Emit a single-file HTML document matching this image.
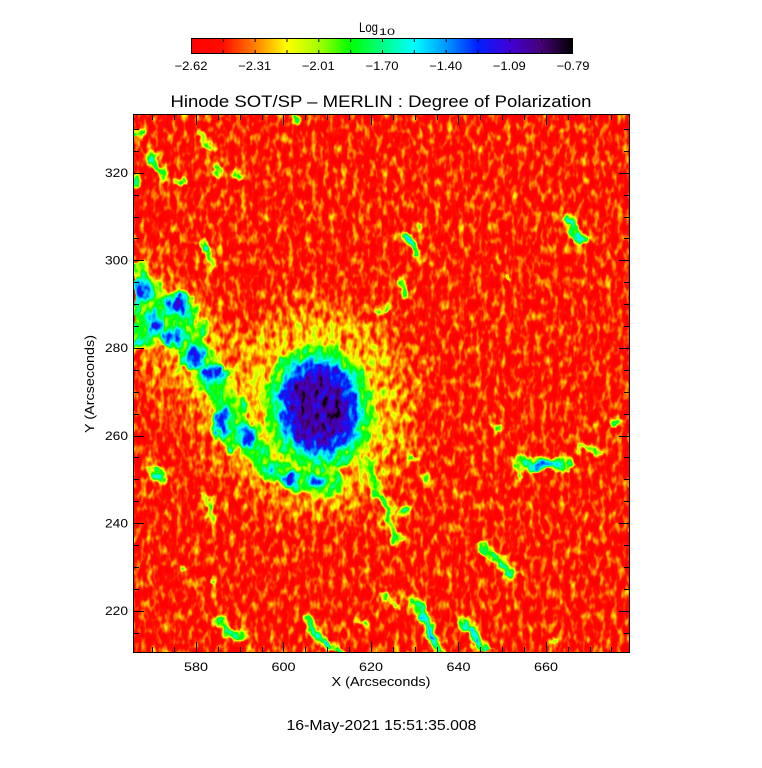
<!DOCTYPE html>
<html><head><meta charset="utf-8"><style>
html,body{margin:0;padding:0;background:#fff;width:762px;height:768px;overflow:hidden}
svg{display:block}
text{font-family:"Liberation Sans",sans-serif;fill:#000}
</style></head><body>
<svg width="762" height="768" viewBox="0 0 762 768" xmlns="http://www.w3.org/2000/svg">
<defs>
<linearGradient id="cb" x1="0" x2="1" y1="0" y2="0">
<stop offset="0" stop-color="#ff0000"/>
<stop offset="0.083" stop-color="#ff0d00"/>
<stop offset="0.167" stop-color="#ff8000"/>
<stop offset="0.25" stop-color="#ffff00"/>
<stop offset="0.333" stop-color="#a6ff00"/>
<stop offset="0.417" stop-color="#00ff00"/>
<stop offset="0.5" stop-color="#00ff80"/>
<stop offset="0.583" stop-color="#00ffff"/>
<stop offset="0.667" stop-color="#0099ff"/>
<stop offset="0.75" stop-color="#001fff"/>
<stop offset="0.833" stop-color="#4000d9"/>
<stop offset="0.917" stop-color="#470078"/>
<stop offset="1" stop-color="#000000"/>
</linearGradient>
<filter id="bb" filterUnits="userSpaceOnUse" x="0" y="0" width="762" height="768" color-interpolation-filters="sRGB">
<feGaussianBlur stdDeviation="12"/>
</filter>
<filter id="f" filterUnits="userSpaceOnUse" x="134" y="115" width="495" height="537" color-interpolation-filters="sRGB">
<feGaussianBlur in="SourceGraphic" stdDeviation="2" result="b"/>
<feTurbulence type="fractalNoise" baseFrequency="0.07" numOctaves="3" seed="11" result="dt"/>
<feDisplacementMap in="b" in2="dt" scale="13" xChannelSelector="R" yChannelSelector="G" result="d"/>
<feTurbulence type="fractalNoise" baseFrequency="0.17 0.09" numOctaves="2" seed="4" result="t"/>
<feColorMatrix in="t" type="matrix" values="0.45 0 0 0 -0.06  0.45 0 0 0 -0.06  0.45 0 0 0 -0.06  0 0 0 0 1" result="n"/>
<feComposite in="n" in2="d" operator="arithmetic" k1="0" k2="1" k3="1" k4="-0.08" result="s"/>
<feComponentTransfer in="s">
<feFuncR type="table" tableValues="1 1 1 1 0.65 0 0 0 0 0 0.25 0.28 0"/>
<feFuncG type="table" tableValues="0 0.05 0.5 1 1 1 1 1 0.6 0.12 0 0 0"/>
<feFuncB type="table" tableValues="0 0 0 0 0 0 0.5 1 1 1 0.85 0.47 0"/>
<feFuncA type="linear" slope="0" intercept="1"/>
</feComponentTransfer>
</filter>
</defs>

<!-- image -->
<g filter="url(#f)">
<rect x="100" y="100" width="560" height="580" fill="#000"/>
<g filter="url(#bb)">
<ellipse cx="318" cy="408" rx="105" ry="115" fill="#0f0f0f"/>
<polygon points="133,255 180,275 230,320 270,360 300,430 340,480 330,515 260,505 210,465 170,415 133,380" fill="#0f0f0f"/>
<ellipse cx="318" cy="408" rx="80" ry="90" fill="#242424"/>
<polyline points="133,305 170,320 200,355 225,400 250,440 290,475 330,488" fill="none" stroke="#242424" stroke-width="45"/>
</g>

<!-- filament green -->
<g fill="none" stroke="#545454" stroke-linecap="round" stroke-linejoin="round">
<polyline points="133,310 165,318 190,340 210,370 225,410 245,440 270,470 300,482 335,485" stroke-width="22"/>
</g>
<g fill="#545454">
<ellipse cx="145" cy="312" rx="18" ry="38"/>
<ellipse cx="185" cy="318" rx="14" ry="20"/>
<ellipse cx="200" cy="380" rx="10" ry="8"/>
<ellipse cx="238" cy="405" rx="9" ry="10"/>
<ellipse cx="262" cy="448" rx="9" ry="8"/>
<ellipse cx="230" cy="445" rx="8" ry="9"/>
<ellipse cx="205" cy="330" rx="7" ry="6"/>
<ellipse cx="140" cy="270" rx="8" ry="7"/>
</g>

<!-- filament cyan / blue blobs -->
<g fill="#7c7c7c">
<ellipse cx="143" cy="290" rx="11" ry="13"/>
<ellipse cx="155" cy="325" rx="10" ry="12"/>
<ellipse cx="178" cy="305" rx="15" ry="12"/>
<ellipse cx="172" cy="338" rx="11" ry="9"/>
<ellipse cx="194" cy="357" rx="14" ry="10"/>
<ellipse cx="214" cy="374" rx="15" ry="9"/>
<ellipse cx="222" cy="422" rx="9" ry="17"/>
<ellipse cx="248" cy="437" rx="10" ry="14"/>
<ellipse cx="290" cy="478" rx="10" ry="8"/>
<ellipse cx="316" cy="482" rx="12" ry="7"/>
<ellipse cx="272" cy="468" rx="7" ry="6"/>
<ellipse cx="139" cy="344" rx="6" ry="6"/>
</g>
<g fill="#aaaaaa">
<ellipse cx="143" cy="290" rx="6" ry="8"/>
<ellipse cx="155" cy="325" rx="5" ry="7"/>
<ellipse cx="178" cy="305" rx="10" ry="8"/>
<ellipse cx="172" cy="338" rx="6" ry="5"/>
<ellipse cx="194" cy="357" rx="9" ry="6"/>
<ellipse cx="214" cy="374" rx="10" ry="5"/>
<ellipse cx="222" cy="422" rx="5" ry="12"/>
<ellipse cx="248" cy="437" rx="6" ry="9"/>
<ellipse cx="290" cy="478" rx="6" ry="5"/>
<ellipse cx="316" cy="482" rx="8" ry="4"/>
</g>

<!-- sunspot -->
<g transform="translate(319,408) rotate(-10)">
<ellipse rx="55" ry="64" fill="#545454"/>
<ellipse rx="44" ry="53" fill="#7c7c7c"/>
<ellipse rx="38" ry="46" fill="#aaaaaa"/>
<ellipse rx="29" ry="37" fill="#c7c7c7"/>
<ellipse rx="18" ry="24" fill="#cccccc"/>
</g>

<!-- scattered small features: green -->
<g fill="none" stroke="#595959" stroke-linecap="round" stroke-linejoin="round">
<polyline points="150,152 156,162 160,172 165,178" stroke-width="7"/>
<polyline points="198,133 205,140 210,147" stroke-width="6"/>
<polyline points="203,243 207,255 212,266" stroke-width="7"/>
<polyline points="408,237 412,245 418,253" stroke-width="9"/>
<polyline points="568,218 575,232 582,240" stroke-width="9"/>
<polyline points="400,280 405,290 408,297" stroke-width="6"/>
<polyline points="373,310 382,312 390,308" stroke-width="5"/>
<polyline points="523,462 535,466 548,462 558,466 567,464" stroke-width="11"/>
<polyline points="517,458 520,478" stroke-width="6"/>
<polyline points="580,447 590,450 600,453" stroke-width="5"/>
<polyline points="425,475 428,482" stroke-width="5"/>
<polyline points="485,545 490,555 498,560 505,567 512,575" stroke-width="9"/>
<polyline points="413,600 420,612 428,625 435,640 440,655" stroke-width="10"/>
<polyline points="463,622 470,630 478,640 485,655" stroke-width="10"/>
<polyline points="220,620 225,630 235,635 242,634" stroke-width="9"/>
<polyline points="307,620 313,630 320,640 330,648 345,655" stroke-width="9"/>
<polyline points="150,470 158,476 163,480" stroke-width="9"/>
<polyline points="207,493 209,505 212,520" stroke-width="5"/>
<polyline points="383,595 392,602 400,606" stroke-width="5"/>
<polyline points="365,462 375,480 380,497 392,510 388,528 397,540" stroke-width="7"/>
</g>
<g fill="#595959">
<ellipse cx="180" cy="180" rx="6" ry="5"/>
<ellipse cx="218" cy="170" rx="5" ry="6"/>
<ellipse cx="237" cy="177" rx="5" ry="4"/>
<ellipse cx="297" cy="120" rx="5" ry="4"/>
<ellipse cx="136" cy="180" rx="4" ry="6"/>
<ellipse cx="138" cy="135" rx="5" ry="5"/>
<ellipse cx="616" cy="422" rx="7" ry="5"/>
<ellipse cx="497" cy="427" rx="6" ry="5"/>
<ellipse cx="413" cy="460" rx="4" ry="4"/>
<ellipse cx="404" cy="513" rx="5" ry="6"/>
<ellipse cx="553" cy="640" rx="4" ry="4"/>
<ellipse cx="363" cy="620" rx="5" ry="3"/>
<ellipse cx="183" cy="567" rx="3" ry="3"/>
<ellipse cx="213" cy="580" rx="3" ry="3"/>
<ellipse cx="507" cy="278" rx="3" ry="3"/>
<ellipse cx="423" cy="227" rx="3" ry="3"/>
<ellipse cx="600" cy="452" rx="3" ry="3"/>
</g>
<!-- cyan cores -->
<g fill="none" stroke="#828282" stroke-linecap="round" stroke-linejoin="round">
<polyline points="152,156 157,165" stroke-width="3"/>
<polyline points="205,248 208,258" stroke-width="3"/>
<polyline points="408,237 412,245 418,253" stroke-width="5"/>
<polyline points="570,222 576,234 582,240" stroke-width="5"/>
<polyline points="525,462 535,466 548,462 558,466" stroke-width="6"/>
<polyline points="490,555 498,560 505,567 511,574" stroke-width="4"/>
<polyline points="416,605 422,615 430,628 436,645" stroke-width="5"/>
<polyline points="466,626 472,633 479,643" stroke-width="5"/>
<polyline points="224,628 233,634" stroke-width="4"/>
<polyline points="311,626 318,637 328,647" stroke-width="4"/>
<polyline points="153,472 160,478" stroke-width="4"/>
<polyline points="377,492 381,499 392,510" stroke-width="3"/>
</g>
<g fill="#828282">
<ellipse cx="180" cy="181" rx="3" ry="2"/>
<ellipse cx="136" cy="181" rx="2" ry="3"/>
<ellipse cx="138" cy="136" rx="2" ry="2"/>
<ellipse cx="616" cy="422" rx="3" ry="2"/>
<ellipse cx="413" cy="460" rx="2" ry="2"/>
<ellipse cx="404" cy="513" rx="2" ry="3"/>
</g>
<!-- blue cores -->
<g fill="none" stroke="#aaaaaa" stroke-linecap="round">
<polyline points="410,242 414,248" stroke-width="2"/>
<polyline points="535,466 545,463" stroke-width="3"/>
<polyline points="506,568 510,572" stroke-width="2"/>
<polyline points="428,625 433,638" stroke-width="2"/>
<polyline points="338,650 345,653" stroke-width="3"/>
<polyline points="155,474 159,477" stroke-width="2"/>
</g>
</g>

<!-- frame -->
<rect x="133.5" y="114.5" width="496" height="538" fill="none" stroke="#000" stroke-width="1"/>

<!-- ticks -->
<path fill="none" stroke="#000" stroke-width="1" d="
M196.5 652V642 M283.5 652V642 M371.5 652V642 M458.5 652V642 M546.5 652V642
M196.5 115V125 M283.5 115V125 M371.5 115V125 M458.5 115V125 M546.5 115V125
M152.5 652V647 M174.5 652V647 M218.5 652V647 M240.5 652V647 M262.5 652V647 M305.5 652V647 M327.5 652V647 M349.5 652V647 M393.5 652V647 M415.5 652V647 M437.5 652V647 M480.5 652V647 M502.5 652V647 M524.5 652V647 M568.5 652V647 M590.5 652V647 M611.5 652V647
M152.5 115V120 M174.5 115V120 M218.5 115V120 M240.5 115V120 M262.5 115V120 M305.5 115V120 M327.5 115V120 M349.5 115V120 M393.5 115V120 M415.5 115V120 M437.5 115V120 M480.5 115V120 M502.5 115V120 M524.5 115V120 M568.5 115V120 M590.5 115V120 M611.5 115V120
M134 173.5H144 M134 260.5H144 M134 348.5H144 M134 436.5H144 M134 523.5H144 M134 611.5H144
M629 173.5H619 M629 260.5H619 M629 348.5H619 M629 436.5H619 M629 523.5H619 M629 611.5H619
M134 129.5H139 M134 151.5H139 M134 195.5H139 M134 217.5H139 M134 238.5H139 M134 282.5H139 M134 304.5H139 M134 326.5H139 M134 370.5H139 M134 392.5H139 M134 414.5H139 M134 457.5H139 M134 479.5H139 M134 501.5H139 M134 545.5H139 M134 567.5H139 M134 589.5H139 M134 633.5H139
M629 129.5H624 M629 151.5H624 M629 195.5H624 M629 217.5H624 M629 238.5H624 M629 282.5H624 M629 304.5H624 M629 326.5H624 M629 370.5H624 M629 392.5H624 M629 414.5H624 M629 457.5H624 M629 479.5H624 M629 501.5H624 M629 545.5H624 M629 567.5H624 M629 589.5H624 M629 633.5H624
"/>

<!-- tick labels -->
<g font-size="12" text-anchor="middle">
<text x="196" y="671" textLength="24" lengthAdjust="spacingAndGlyphs">580</text>
<text x="283.5" y="671" textLength="24" lengthAdjust="spacingAndGlyphs">600</text>
<text x="371" y="671" textLength="24" lengthAdjust="spacingAndGlyphs">620</text>
<text x="458.5" y="671" textLength="24" lengthAdjust="spacingAndGlyphs">640</text>
<text x="546" y="671" textLength="24" lengthAdjust="spacingAndGlyphs">660</text>
</g>
<g font-size="12" text-anchor="end">
<text x="128" y="177" textLength="23" lengthAdjust="spacingAndGlyphs">320</text>
<text x="128" y="264.5" textLength="23" lengthAdjust="spacingAndGlyphs">300</text>
<text x="128" y="352" textLength="23" lengthAdjust="spacingAndGlyphs">280</text>
<text x="128" y="440" textLength="23" lengthAdjust="spacingAndGlyphs">260</text>
<text x="128" y="527.5" textLength="23" lengthAdjust="spacingAndGlyphs">240</text>
<text x="128" y="615" textLength="23" lengthAdjust="spacingAndGlyphs">220</text>
</g>

<!-- axis titles -->
<text x="381" y="686" font-size="12.5" text-anchor="middle" textLength="99" lengthAdjust="spacingAndGlyphs">X (Arcseconds)</text>
<text transform="translate(94,384) rotate(-90)" font-size="13" text-anchor="middle" textLength="98" lengthAdjust="spacingAndGlyphs">Y (Arcseconds)</text>

<!-- title -->
<text x="381" y="107" font-size="17" text-anchor="middle" textLength="421" lengthAdjust="spacingAndGlyphs">Hinode SOT/SP – MERLIN : Degree of Polarization</text>

<!-- colorbar -->
<rect x="191.5" y="38.5" width="381" height="15" fill="url(#cb)" stroke="#000" stroke-width="1"/>
<path fill="none" stroke="#000" stroke-width="1" d="
M223.3 39V42 M255.2 39V42 M287 39V42 M318.8 39V42 M350.7 39V42 M382.5 39V42 M414.3 39V42 M446.2 39V42 M478 39V42 M509.8 39V42 M541.7 39V42
M223.3 53V50 M255.2 53V50 M287 53V50 M318.8 53V50 M350.7 53V50 M382.5 53V50 M414.3 53V50 M446.2 53V50 M478 53V50 M509.8 53V50 M541.7 53V50"/>
<g font-size="12" text-anchor="middle">
<text x="191" y="70" textLength="33" lengthAdjust="spacingAndGlyphs">−2.62</text>
<text x="254.7" y="70" textLength="33" lengthAdjust="spacingAndGlyphs">−2.31</text>
<text x="318.3" y="70" textLength="33" lengthAdjust="spacingAndGlyphs">−2.01</text>
<text x="382" y="70" textLength="33" lengthAdjust="spacingAndGlyphs">−1.70</text>
<text x="445.7" y="70" textLength="33" lengthAdjust="spacingAndGlyphs">−1.40</text>
<text x="509.3" y="70" textLength="33" lengthAdjust="spacingAndGlyphs">−1.09</text>
<text x="573" y="70" textLength="33" lengthAdjust="spacingAndGlyphs">−0.79</text>
</g>
<text x="359" y="32" font-size="14" textLength="19" lengthAdjust="spacingAndGlyphs">Log</text>
<text x="379" y="35" font-size="9" textLength="16" lengthAdjust="spacingAndGlyphs">10</text>

<!-- date -->
<text x="381.5" y="730" font-size="14.5" text-anchor="middle" textLength="190" lengthAdjust="spacingAndGlyphs">16-May-2021 15:51:35.008</text>
</svg>
</body></html>
